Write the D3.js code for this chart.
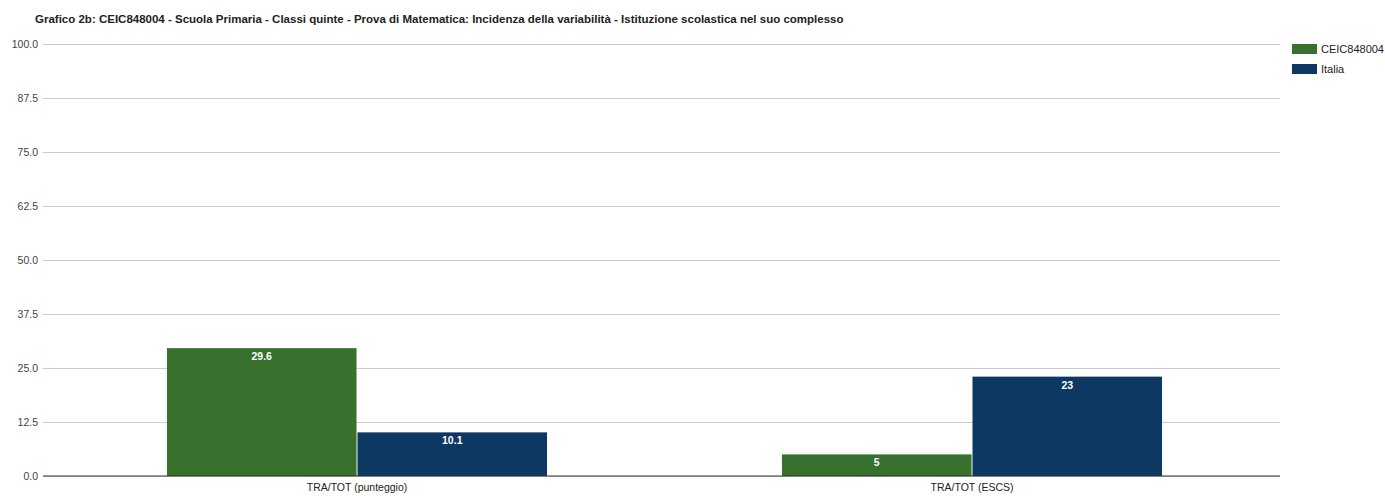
<!DOCTYPE html>
<html><head><meta charset="utf-8">
<script src="https://cdn.jsdelivr.net/npm/d3@7"></script>
<style>body{margin:0;background:#fff}svg{display:block}text{font-family:"Liberation Sans",Arial,sans-serif}</style>
</head><body><svg id="c" width="1385" height="496"></svg>
<script>
const title = "Grafico 2b: CEIC848004 - Scuola Primaria - Classi quinte - Prova di Matematica: Incidenza della variabilità - Istituzione scolastica nel suo complesso";
const categories = ["TRA/TOT (punteggio)", "TRA/TOT (ESCS)"];
const seriesNames = ["CEIC848004", "Italia"];
const seriesColors = ["#38702d", "#0d3861"];
const valuesCEIC = [29.6, 5];
const valuesItalia = [10.1, 23];
const valueLabels = [["29.6", "5"], ["10.1", "23"]];
const yTicks = [0, 12.5, 25, 37.5, 50, 62.5, 75, 87.5, 100];

(function () {
const svg = d3.select("#c");
const pLeft = 43, pRight = 1280, pTop = 44, pBottom = 476;
const y = d3.scaleLinear().domain([0, 100]).range([pBottom, pTop]);
const x0 = d3.scaleBand().domain(categories).range([49.5, 1279.5]).paddingInner(0).paddingOuter(0);
const groupW = x0.bandwidth() * 0.618;
const x1 = d3.scaleBand().domain(seriesNames).range([0, groupW]).paddingInner(0.005);

svg.append("text").attr("x", 35).attr("y", 23).attr("font-size", 11.5).attr("font-weight", "bold").attr("fill", "#222").text(title);

const ya = svg.append("g").attr("transform", `translate(${pLeft},0)`)
  .call(d3.axisLeft(y).tickValues(yTicks).tickFormat(d3.format(".1f")).tickSize(-(pRight - pLeft)).tickPadding(6));
ya.select(".domain").remove();
ya.selectAll(".tick line").attr("stroke", "#cccccc");
ya.selectAll(".tick text").attr("font-size", 10.5).attr("fill", "#444").attr("x", -5).attr("dy", "0.32em");

const data = [valuesCEIC, valuesItalia];
categories.forEach((cat, ci) => {
  const gx = x0(cat) + (x0.bandwidth() - groupW) / 2;
  seriesNames.forEach((s, si) => {
    const v = data[si][ci];
    svg.append("rect").attr("x", gx + x1(s)).attr("y", y(v)).attr("width", x1.bandwidth()).attr("height", y(0) - y(v)).attr("fill", seriesColors[si]);
    svg.append("text").attr("x", gx + x1(s) + x1.bandwidth() / 2).attr("y", y(v) + 12).attr("text-anchor", "middle")
      .attr("font-size", 10.5).attr("font-weight", "bold").attr("fill", "#fff").text(valueLabels[si][ci]);
  });
});

const xa = svg.append("g").attr("transform", `translate(0,${pBottom})`).call(d3.axisBottom(x0).tickSize(0).tickPadding(8));
xa.select(".domain").remove();
xa.selectAll("text").attr("font-size", 10.5).attr("fill", "#222");
svg.append("line").attr("x1", pLeft).attr("x2", pRight).attr("y1", pBottom).attr("y2", pBottom).attr("stroke", "#333").attr("stroke-width", 1);

const lg = svg.append("g");
seriesNames.forEach((s, i) => {
  lg.append("rect").attr("x", 1292).attr("y", 44 + i * 20).attr("width", 25).attr("height", 10).attr("fill", seriesColors[i]);
  lg.append("text").attr("x", 1321).attr("y", 53 + i * 20).attr("font-size", 11).attr("fill", "#222").text(s);
});
})();
</script></body></html>
